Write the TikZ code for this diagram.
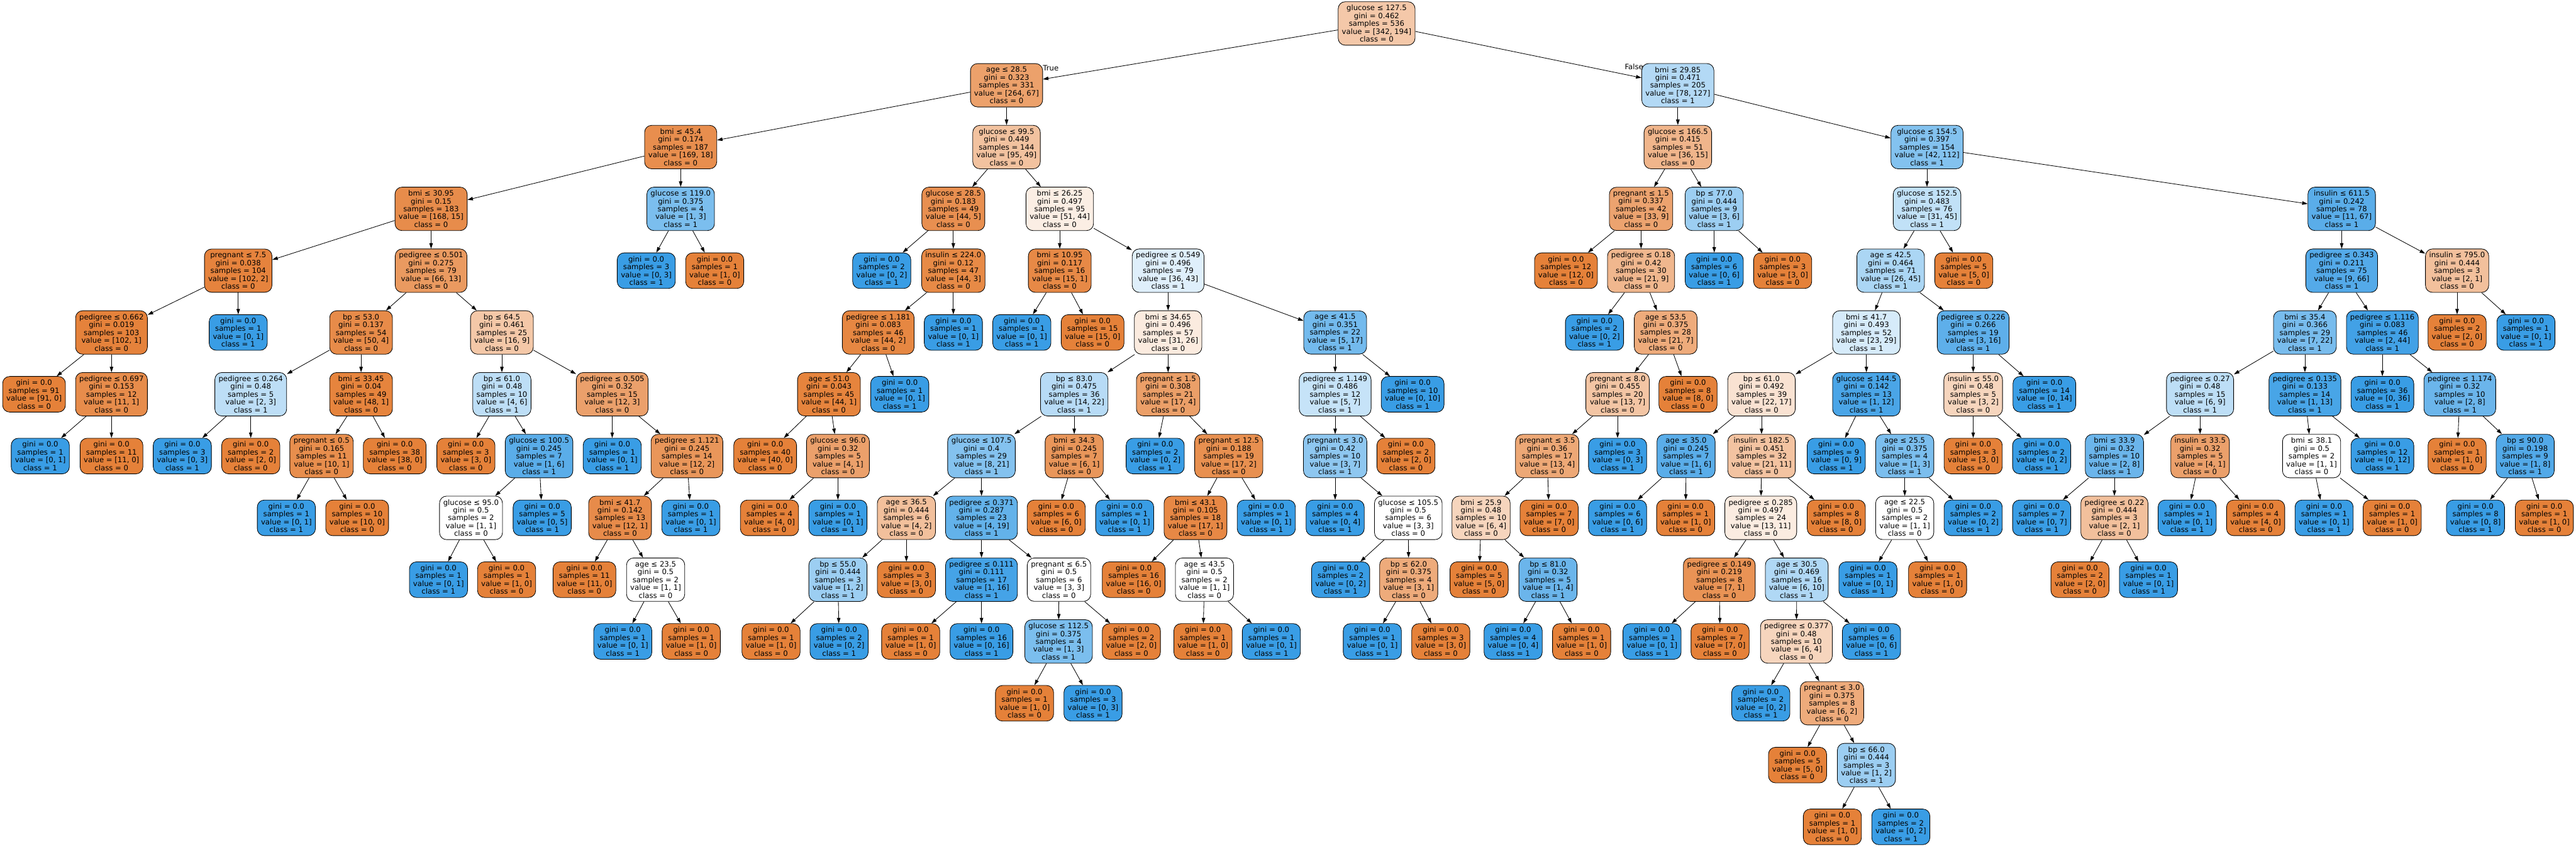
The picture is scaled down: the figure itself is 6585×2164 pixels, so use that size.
\documentclass[tikz,border=0pt]{standalone}
\usepackage{fontspec}
\setmainfont{DejaVu Sans}
\usetikzlibrary{arrows.meta}

\definecolor{clszero}{HTML}{E58139}
\definecolor{clsone}{HTML}{399DE5}

\tikzset{
  tnode/.style={draw, rounded corners=3.6mm, align=center, line width=0.27mm,
    inner xsep=1.9mm, inner ysep=1.65mm, font={\fontsize{10.7}{11.4}\selectfont}},
  % fill shade from the class counts
  cls/.code 2 args={%
    \ifnum#1<#2\relax
      \pgfmathsetmacro\mixpct{100*(1-#1/#2)}%
      \edef\mixtmp{\noexpand\pgfkeysalso{fill=clsone!\mixpct!white}}\mixtmp
    \else
      \pgfmathsetmacro\mixpct{100*(1-#2/#1)}%
      \edef\mixtmp{\noexpand\pgfkeysalso{fill=clszero!\mixpct!white}}\mixtmp
    \fi},
  branch/.style={-{Triangle[length=2.8mm,width=1.8mm]}, line width=0.27mm},
  lbl/.style={font={\fontsize{10.7}{11.4}\selectfont}}
}

% name, parent, x, y, test, gini, samples, value0, value1
\newcommand{\splitnode}[9]{%
  \node[tnode, cls={#8}{#9}] (#1) at (#3,#4)
    {#5\\gini = #6\\samples = #7\\value = [#8, #9]\\class = \ifnum#8<#9 1\else 0\fi};
  \draw[branch] (#2) -- (#1);}
% name, parent, x, y, value0, value1
\newcommand{\leafnode}[6]{%
  \node[tnode, cls={#5}{#6}] (#1) at (#3,#4)
    {gini = 0.0\\samples = \the\numexpr#5+#6\relax\\value = [#5, #6]\\class = \ifnum#5<#6 1\else 0\fi};
  \draw[branch] (#2) -- (#1);}

\begin{document}
\begin{tikzpicture}[x=0.2mm, y=-0.2mm]
\useasboundingbox (0,0) rectangle (6585,2164);
% Root
\node[tnode, cls={342}{194}] (root) at (3519,60) {glucose ≤ 127.5\\gini = 0.462\\samples = 536\\value = [342, 194]\\class = 0};
% Level 1
\splitnode{a}{root}{2573}{218}{age ≤ 28.5}{0.323}{331}{264}{67}
\splitnode{b}{root}{4289}{218}{bmi ≤ 29.85}{0.471}{205}{78}{127}
\node[lbl] (truelbl) at (2686,174) {True};
\node[lbl] (falselbl) at (4177,170) {False};
% Level 2
\splitnode{aa}{a}{1740}{376}{bmi ≤ 45.4}{0.174}{187}{169}{18}
\splitnode{ab}{a}{2573}{376}{glucose ≤ 99.5}{0.449}{144}{95}{49}
\splitnode{ba}{b}{4289}{376}{glucose ≤ 166.5}{0.415}{51}{36}{15}
\splitnode{bb}{b}{4926}{376}{glucose ≤ 154.5}{0.397}{154}{42}{112}
% Level 3
\splitnode{aaa}{aa}{1102}{534}{bmi ≤ 30.95}{0.15}{183}{168}{15}
\splitnode{aab}{aa}{1740}{534}{glucose ≤ 119.0}{0.375}{4}{1}{3}
\splitnode{aba}{ab}{2437}{534}{glucose ≤ 28.5}{0.183}{49}{44}{5}
\splitnode{abb}{ab}{2709}{534}{bmi ≤ 26.25}{0.497}{95}{51}{44}
\splitnode{baa}{ba}{4195}{534}{pregnant ≤ 1.5}{0.337}{42}{33}{9}
\splitnode{bab}{ba}{4382}{534}{bp ≤ 77.0}{0.444}{9}{3}{6}
\splitnode{bba}{bb}{4926}{534}{glucose ≤ 152.5}{0.483}{76}{31}{45}
\splitnode{bbb}{bb}{5986}{534}{insulin ≤ 611.5}{0.242}{78}{11}{67}
% Level 4
\splitnode{aaaa}{aaa}{609}{692}{pregnant ≤ 7.5}{0.038}{104}{102}{2}
\splitnode{aaab}{aaa}{1102}{692}{pedigree ≤ 0.501}{0.275}{79}{66}{13}
\leafnode{aaba}{aab}{1652}{692}{0}{3}
\leafnode{aabb}{aab}{1827}{692}{1}{0}
\leafnode{abaa}{aba}{2254}{692}{0}{2}
\splitnode{abab}{aba}{2437}{692}{insulin ≤ 224.0}{0.12}{47}{44}{3}
\splitnode{abba}{abb}{2709}{692}{bmi ≤ 10.95}{0.117}{16}{15}{1}
\splitnode{abbb}{abb}{2986}{692}{pedigree ≤ 0.549}{0.496}{79}{36}{43}
\leafnode{baaa}{baa}{4003}{692}{12}{0}
\splitnode{baab}{baa}{4195}{692}{pedigree ≤ 0.18}{0.42}{30}{21}{9}
\leafnode{baba}{bab}{4382}{692}{0}{6}
\leafnode{babb}{bab}{4557}{692}{3}{0}
\splitnode{bbaa}{bba}{4833}{692}{age ≤ 42.5}{0.464}{71}{26}{45}
\leafnode{bbab}{bba}{5020}{692}{5}{0}
\splitnode{bbba}{bbb}{5986}{692}{pedigree ≤ 0.343}{0.211}{75}{9}{66}
\splitnode{bbbb}{bbb}{6281}{692}{insulin ≤ 795.0}{0.444}{3}{2}{1}
% Level 5
\splitnode{aaaaa}{aaaa}{285}{850}{pedigree ≤ 0.662}{0.019}{103}{102}{1}
\leafnode{aaaab}{aaaa}{609}{850}{0}{1}
\splitnode{aaaba}{aaab}{923}{850}{bp ≤ 53.0}{0.137}{54}{50}{4}
\splitnode{aaabb}{aaab}{1283}{850}{bp ≤ 64.5}{0.461}{25}{16}{9}
\splitnode{ababa}{abab}{2245}{850}{pedigree ≤ 1.181}{0.083}{46}{44}{2}
\leafnode{ababb}{abab}{2437}{850}{0}{1}
\leafnode{abbaa}{abba}{2612}{850}{0}{1}
\leafnode{abbab}{abba}{2793}{850}{15}{0}
\splitnode{abbba}{abbb}{2986}{850}{bmi ≤ 34.65}{0.496}{57}{31}{26}
\splitnode{abbbb}{abbb}{3413}{850}{age ≤ 41.5}{0.351}{22}{5}{17}
\leafnode{baaba}{baab}{4076}{850}{0}{2}
\splitnode{baabb}{baab}{4258}{850}{age ≤ 53.5}{0.375}{28}{21}{7}
\splitnode{bbaaa}{bbaa}{4771}{850}{bmi ≤ 41.7}{0.493}{52}{23}{29}
\splitnode{bbaab}{bbaa}{5044}{850}{pedigree ≤ 0.226}{0.266}{19}{3}{16}
\splitnode{bbbaa}{bbba}{5892}{850}{bmi ≤ 35.4}{0.366}{29}{7}{22}
\splitnode{bbbab}{bbba}{6090}{850}{pedigree ≤ 1.116}{0.083}{46}{2}{44}
\leafnode{bbbba}{bbbb}{6281}{850}{2}{0}
\leafnode{bbbbb}{bbbb}{6457}{850}{0}{1}
% Level 6
\leafnode{aaaaaa}{aaaaa}{87}{1008}{91}{0}
\splitnode{aaaaab}{aaaaa}{285}{1008}{pedigree ≤ 0.697}{0.153}{12}{11}{1}
\splitnode{aaabaa}{aaaba}{641}{1008}{pedigree ≤ 0.264}{0.48}{5}{2}{3}
\splitnode{aaabab}{aaaba}{923}{1008}{bmi ≤ 33.45}{0.04}{49}{48}{1}
\splitnode{aaabba}{aaabb}{1283}{1008}{bp ≤ 61.0}{0.48}{10}{4}{6}
\splitnode{aaabbb}{aaabb}{1565}{1008}{pedigree ≤ 0.505}{0.32}{15}{12}{3}
\splitnode{ababaa}{ababa}{2119}{1008}{age ≤ 51.0}{0.043}{45}{44}{1}
\leafnode{ababab}{ababa}{2300}{1008}{0}{1}
\splitnode{abbbaa}{abbba}{2746}{1008}{bp ≤ 83.0}{0.475}{36}{14}{22}
\splitnode{abbbab}{abbba}{2986}{1008}{pregnant ≤ 1.5}{0.308}{21}{17}{4}
\splitnode{abbbba}{abbbb}{3413}{1008}{pedigree ≤ 1.149}{0.486}{12}{5}{7}
\leafnode{abbbbb}{abbbb}{3611}{1008}{0}{10}
\splitnode{baabba}{baabb}{4135}{1008}{pregnant ≤ 8.0}{0.455}{20}{13}{7}
\leafnode{baabbb}{baabb}{4315}{1008}{8}{0}
\splitnode{bbaaaa}{bbaaa}{4503}{1008}{bp ≤ 61.0}{0.492}{39}{22}{17}
\splitnode{bbaaab}{bbaaa}{4771}{1008}{glucose ≤ 144.5}{0.142}{13}{1}{12}
\splitnode{bbaaba}{bbaab}{5044}{1008}{insulin ≤ 55.0}{0.48}{5}{3}{2}
\leafnode{bbaabb}{bbaab}{5226}{1008}{0}{14}
\splitnode{bbbaaa}{bbbaa}{5624}{1008}{pedigree ≤ 0.27}{0.48}{15}{6}{9}
\splitnode{bbbaab}{bbbaa}{5892}{1008}{pedigree ≤ 0.135}{0.133}{14}{1}{13}
\leafnode{bbbaba}{bbbab}{6090}{1008}{0}{36}
\splitnode{bbbabb}{bbbab}{6288}{1008}{pedigree ≤ 1.174}{0.32}{10}{2}{8}
% Level 7
\leafnode{aaaaaba}{aaaaab}{103}{1166}{0}{1}
\leafnode{aaaaabb}{aaaaab}{285}{1166}{11}{0}
\leafnode{aaabaaa}{aaabaa}{466}{1166}{0}{3}
\leafnode{aaabaab}{aaabaa}{641}{1166}{2}{0}
\splitnode{aaababa}{aaabab}{822}{1166}{pregnant ≤ 0.5}{0.165}{11}{10}{1}
\leafnode{aaababb}{aaabab}{1009}{1166}{38}{0}
\leafnode{aaabbaa}{aaabba}{1191}{1166}{3}{0}
\splitnode{aaabbab}{aaabba}{1378}{1166}{glucose ≤ 100.5}{0.245}{7}{1}{6}
\leafnode{aaabbba}{aaabbb}{1565}{1166}{0}{1}
\splitnode{aaabbbb}{aaabbb}{1756}{1166}{pedigree ≤ 1.121}{0.245}{14}{12}{2}
\leafnode{ababaaa}{ababaa}{1956}{1166}{40}{0}
\splitnode{ababaab}{ababaa}{2142}{1166}{glucose ≤ 96.0}{0.32}{5}{4}{1}
\splitnode{abbbaaa}{abbbaa}{2509}{1166}{glucose ≤ 107.5}{0.4}{29}{8}{21}
\splitnode{abbbaab}{abbbaa}{2746}{1166}{bmi ≤ 34.3}{0.245}{7}{6}{1}
\leafnode{abbbaba}{abbbab}{2953}{1166}{0}{2}
\splitnode{abbbabb}{abbbab}{3141}{1166}{pregnant ≤ 12.5}{0.188}{19}{17}{2}
\splitnode{abbbbaa}{abbbba}{3413}{1166}{pregnant ≤ 3.0}{0.42}{10}{3}{7}
\leafnode{abbbbab}{abbbba}{3594}{1166}{2}{0}
\splitnode{baabbaa}{baabba}{3955}{1166}{pregnant ≤ 3.5}{0.36}{17}{13}{4}
\leafnode{baabbab}{baabba}{4135}{1166}{0}{3}
\splitnode{bbaaaaa}{bbaaaa}{4310}{1166}{age ≤ 35.0}{0.245}{7}{1}{6}
\splitnode{bbaaaab}{bbaaaa}{4503}{1166}{insulin ≤ 182.5}{0.451}{32}{21}{11}
\leafnode{bbaaaba}{bbaaab}{4694}{1166}{0}{9}
\splitnode{bbaaabb}{bbaaab}{4869}{1166}{age ≤ 25.5}{0.375}{4}{1}{3}
\leafnode{bbaabaa}{bbaaba}{5044}{1166}{3}{0}
\leafnode{bbaabab}{bbaaba}{5219}{1166}{0}{2}
\splitnode{bbbaaaa}{bbbaaa}{5405}{1166}{bmi ≤ 33.9}{0.32}{10}{2}{8}
\splitnode{bbbaaab}{bbbaaa}{5624}{1166}{insulin ≤ 33.5}{0.32}{5}{4}{1}
\splitnode{bbbaaba}{bbbaab}{5909}{1166}{bmi ≤ 38.1}{0.5}{2}{1}{1}
\leafnode{bbbaabb}{bbbaab}{6090}{1166}{0}{12}
\leafnode{bbbabba}{bbbabb}{6281}{1166}{1}{0}
\splitnode{bbbabbb}{bbbabb}{6455}{1166}{bp ≤ 90.0}{0.198}{9}{1}{8}
% Level 8
\leafnode{aaababaa}{aaababa}{732}{1324}{0}{1}
\leafnode{aaababab}{aaababa}{913}{1324}{10}{0}
\splitnode{aaabbaba}{aaabbab}{1204}{1324}{glucose ≤ 95.0}{0.5}{2}{1}{1}
\leafnode{aaabbabb}{aaabbab}{1386}{1324}{0}{5}
\splitnode{aaabbbba}{aaabbbb}{1585}{1324}{bmi ≤ 41.7}{0.142}{13}{12}{1}
\leafnode{aaabbbbb}{aaabbbb}{1766}{1324}{0}{1}
\leafnode{ababaaba}{ababaab}{1967}{1324}{4}{0}
\leafnode{ababaabb}{ababaab}{2142}{1324}{0}{1}
\splitnode{abbbaaaa}{abbbaaa}{2317}{1324}{age ≤ 36.5}{0.444}{6}{4}{2}
\splitnode{abbbaaab}{abbbaaa}{2509}{1324}{pedigree ≤ 0.371}{0.287}{23}{4}{19}
\leafnode{abbbaaba}{abbbaab}{2700}{1324}{6}{0}
\leafnode{abbbaabb}{abbbaab}{2875}{1324}{0}{1}
\splitnode{abbbabba}{abbbabb}{3056}{1324}{bmi ≤ 43.1}{0.105}{18}{17}{1}
\leafnode{abbbabbb}{abbbabb}{3237}{1324}{0}{1}
\leafnode{abbbbaaa}{abbbbaa}{3413}{1324}{0}{4}
\splitnode{abbbbaab}{abbbbaa}{3600}{1324}{glucose ≤ 105.5}{0.5}{6}{3}{3}
\splitnode{baabbaaa}{baabbaa}{3786}{1324}{bmi ≤ 25.9}{0.48}{10}{6}{4}
\leafnode{baabbaab}{baabbaa}{3960}{1324}{7}{0}
\leafnode{bbaaaaaa}{bbaaaaa}{4135}{1324}{0}{6}
\leafnode{bbaaaaab}{bbaaaaa}{4309}{1324}{1}{0}
\splitnode{bbaaaaba}{bbaaaab}{4501}{1324}{pedigree ≤ 0.285}{0.497}{24}{13}{11}
\leafnode{bbaaaabb}{bbaaaab}{4694}{1324}{8}{0}
\splitnode{bbaaabba}{bbaaabb}{4869}{1324}{age ≤ 22.5}{0.5}{2}{1}{1}
\leafnode{bbaaabbb}{bbaaabb}{5044}{1324}{0}{2}
\leafnode{bbbaaaaa}{bbbaaaa}{5219}{1324}{0}{7}
\splitnode{bbbaaaab}{bbbaaaa}{5405}{1324}{pedigree ≤ 0.22}{0.444}{3}{2}{1}
\leafnode{bbbaaaba}{bbbaaab}{5591}{1324}{0}{1}
\leafnode{bbbaaabb}{bbbaaab}{5766}{1324}{4}{0}
\leafnode{bbbaabaa}{bbbaaba}{5941}{1324}{0}{1}
\leafnode{bbbaabab}{bbbaaba}{6115}{1324}{1}{0}
\leafnode{bbbabbba}{bbbabbb}{6328}{1324}{0}{8}
\leafnode{bbbabbbb}{bbbabbb}{6504}{1324}{1}{0}
% Level 9
\leafnode{aaabbabaa}{aaabbaba}{1121}{1482}{0}{1}
\leafnode{aaabbabab}{aaabbaba}{1295}{1482}{1}{0}
\leafnode{aaabbbbaa}{aaabbbba}{1494}{1482}{11}{0}
\splitnode{aaabbbbab}{aaabbbba}{1676}{1482}{age ≤ 23.5}{0.5}{2}{1}{1}
\splitnode{abbbaaaaa}{abbbaaaa}{2142}{1482}{bp ≤ 55.0}{0.444}{3}{1}{2}
\leafnode{abbbaaaab}{abbbaaaa}{2317}{1482}{3}{0}
\splitnode{abbbaaaba}{abbbaaab}{2509}{1482}{pedigree ≤ 0.111}{0.111}{17}{1}{16}
\splitnode{abbbaaabb}{abbbaaab}{2707}{1482}{pregnant ≤ 6.5}{0.5}{6}{3}{3}
\leafnode{abbbabbaa}{abbbabba}{2898}{1482}{16}{0}
\splitnode{abbbabbab}{abbbabba}{3079}{1482}{age ≤ 43.5}{0.5}{2}{1}{1}
\leafnode{abbbbaaba}{abbbbaab}{3427}{1482}{0}{2}
\splitnode{abbbbaabb}{abbbbaab}{3601}{1482}{bp ≤ 62.0}{0.375}{4}{3}{1}
\leafnode{baabbaaaa}{baabbaaa}{3781}{1482}{5}{0}
\splitnode{baabbaaab}{baabbaaa}{3957}{1482}{bp ≤ 81.0}{0.32}{5}{1}{4}
\splitnode{bbaaaabaa}{bbaaaaba}{4395}{1482}{pedigree ≤ 0.149}{0.219}{8}{7}{1}
\splitnode{bbaaaabab}{bbaaaaba}{4593}{1482}{age ≤ 30.5}{0.469}{16}{6}{10}
\leafnode{bbaaabbaa}{bbaaabba}{4775}{1482}{0}{1}
\leafnode{bbaaabbab}{bbaaabba}{4953}{1482}{1}{0}
\leafnode{bbbaaaaba}{bbbaaaab}{5317}{1482}{2}{0}
\leafnode{bbbaaaabb}{bbbaaaab}{5492}{1482}{0}{1}
% Level 10
\leafnode{aaabbbbaba}{aaabbbbab}{1592}{1640}{0}{1}
\leafnode{aaabbbbabb}{aaabbbbab}{1767}{1640}{1}{0}
\leafnode{abbbaaaaaa}{abbbaaaaa}{1971}{1640}{1}{0}
\leafnode{abbbaaaaab}{abbbaaaaa}{2145}{1640}{0}{2}
\leafnode{abbbaaabaa}{abbbaaaba}{2328}{1640}{1}{0}
\leafnode{abbbaaabab}{abbbaaaba}{2509}{1640}{0}{16}
\splitnode{abbbaaabba}{abbbaaabb}{2706}{1640}{glucose ≤ 112.5}{0.375}{4}{1}{3}
\leafnode{abbbaaabbb}{abbbaaabb}{2892}{1640}{2}{0}
\leafnode{abbbabbaba}{abbbabbab}{3075}{1640}{1}{0}
\leafnode{abbbabbabb}{abbbabbab}{3250}{1640}{0}{1}
\leafnode{abbbbaabba}{abbbbaabb}{3508}{1640}{0}{1}
\leafnode{abbbbaabbb}{abbbbaabb}{3683}{1640}{3}{0}
\leafnode{baabbaaaba}{baabbaaab}{3868}{1640}{0}{4}
\leafnode{baabbaaabb}{baabbaaab}{4043}{1640}{1}{0}
\leafnode{bbaaaabaaa}{bbaaaabaa}{4223}{1640}{0}{1}
\leafnode{bbaaaabaab}{bbaaaabaa}{4397}{1640}{7}{0}
\splitnode{bbaaaababa}{bbaaaabab}{4592}{1640}{pedigree ≤ 0.377}{0.48}{10}{6}{4}
\leafnode{bbaaaababb}{bbaaaabab}{4784}{1640}{0}{6}
% Level 11
\leafnode{abbbaaabbaa}{abbbaaabba}{2619}{1798}{1}{0}
\leafnode{abbbaaabbab}{abbbaaabba}{2794}{1798}{0}{3}
\leafnode{bbaaaababaa}{bbaaaababa}{4501}{1798}{0}{2}
\splitnode{bbaaaababab}{bbaaaababa}{4683}{1798}{pregnant ≤ 3.0}{0.375}{8}{6}{2}
% Level 12
\leafnode{bbaaaabababa}{bbaaaababab}{4595}{1956}{5}{0}
\splitnode{bbaaaabababb}{bbaaaababab}{4771}{1956}{bp ≤ 66.0}{0.444}{3}{1}{2}
% Level 13
\leafnode{bbaaaabababba}{bbaaaabababb}{4684}{2114}{1}{0}
\leafnode{bbaaaabababbb}{bbaaaabababb}{4859}{2114}{0}{2}
\end{tikzpicture}
\end{document}
